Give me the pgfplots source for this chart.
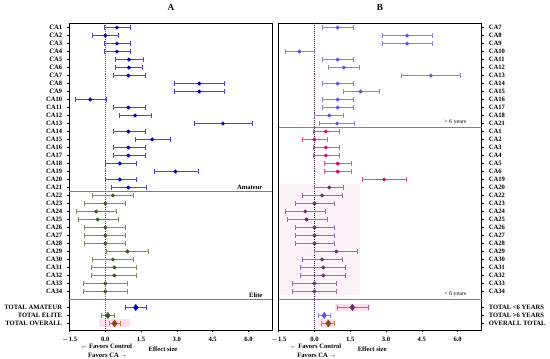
\documentclass[border=0pt]{standalone}
\usepackage{pgfplots}
\pgfplotsset{compat=1.18}
\usepackage{pgfplotstable}
\usepackage{fontspec}
\setmainfont{Liberation Serif}
\definecolor{bluA}{RGB}{0,0,200}
\definecolor{bluAb}{RGB}{70,70,230}
\definecolor{grn}{RGB}{55,90,20}
\definecolor{grnb}{RGB}{110,150,70}
\definecolor{bluB}{RGB}{85,85,230}
\definecolor{bluBb}{RGB}{130,130,240}
\definecolor{pnk}{RGB}{225,0,110}
\definecolor{pnkb}{RGB}{250,70,150}
\definecolor{prp}{RGB}{110,45,110}
\definecolor{prpb}{RGB}{165,105,165}
\definecolor{brn}{RGB}{140,70,20}
\definecolor{orn}{RGB}{240,120,40}
\definecolor{pshade}{RGB}{252,222,236}
\definecolor{pfaint}{RGB}{253,244,249}

\pgfplotstableread{
r x lo hi
1 0.49 -0.04 1.04
2 0 -0.53 0.53
3 0.49 -0.04 1.03
4 0.49 -0.06 1.07
5 0.99 0.43 1.58
6 0.99 0.43 1.57
7 0.97 0.32 1.67
8 3.94 2.89 5.00
9 3.94 2.89 5.00
10 -0.63 -1.26 0.03
11 0.97 0.32 1.67
12 1.25 0.57 1.94
13 4.93 3.71 6.17
14 0.97 0.32 1.67
15 1.97 1.24 2.74
16 0.97 0.32 1.67
17 0.97 0.32 1.67
18 0.61 0 1.28
19 2.94 2.06 3.88
20 0.61 0 1.28
21 0.97 0.24 1.72
}\Aamateur
\pgfplotstableread{
r x lo hi
22 0.32 -0.53 1.18
23 0 -0.86 0.86
24 -0.38 -1.22 0.47
25 -0.32 -1.15 0.54
26 0 -0.86 0.86
27 0 -0.86 0.86
28 0 -0.86 0.86
29 0.93 0.03 1.82
30 0.32 -0.53 1.18
31 0.38 -0.57 1.32
32 0.38 -0.57 1.32
33 0 -0.93 0.93
34 0 -0.93 0.93
}\Aelite
\pgfplotstableread{
r x lo hi
1 0.97 0.34 1.63
2 3.88 2.84 4.95
3 3.88 2.84 4.95
4 -0.63 -1.22 0
5 0.97 0.34 1.63
6 1.23 0.58 1.89
7 4.88 3.66 6.10
8 0.97 0.34 1.63
9 1.93 1.19 2.70
10 0.97 0.34 1.63
11 0.97 0.34 1.63
12 0.62 0 1.23
13 0.95 0.22 1.68
}\Bover
\pgfplotstableread{
r x lo hi
14 0.48 -0.04 1.03
15 0 -0.52 0.52
16 0.48 -0.04 1.03
17 0.48 -0.05 1.04
18 0.97 0.41 1.56
19 0.97 0.41 1.56
20 2.92 2.01 3.84
}\Bpink
\pgfplotstableread{
r x lo hi
21 0.62 0 1.23
22 0.32 -0.52 1.16
23 0 -0.82 0.84
24 -0.38 -1.22 0.47
25 -0.33 -1.15 0.53
26 0 -0.82 0.84
27 0 -0.82 0.84
28 0 -0.82 0.84
29 0.92 0 1.81
30 0.32 -0.52 1.16
31 0.37 -0.58 1.30
32 0.37 -0.58 1.30
33 0 -0.93 0.92
34 0 -0.93 0.92
}\Bunder

\pgfplotsset{
  forest/.style={
    scale only axis, width=153.75pt, height=232.5pt,
    xmin=-1.5, xmax=7, ymin=0.43, ymax=38.8, y dir=reverse,
    xtick={-1.5,0,1.5,3,4.5,6},
    xticklabels={$-$1.5,0.0,1.5,3.0,4.5,6.0},
    ytick={1,...,34,36,37,38},
    tick align=outside, major tick length=2pt,
    tick style={black, line width=0.4pt},
    axis line style={line width=0.5pt},
    ticklabel style={font=\fontsize{5}{6}\selectfont\bfseries},
    /pgf/number format/assume math mode=true,
    xtick pos=bottom,
    clip=false,
  },
  fp/.style n args={4}{only marks, mark=#1, mark size=#4, color=#2,
    error bars/x dir=both, error bars/x explicit, error bars/error mark=|,
    error bars/error mark options={mark size=1.6pt, line width=0.45pt, color=#3},
    error bars/error bar style={color=#3, line width=0.5pt},
  },
}
\newcommand{\fplot}[3]{%
  \addplot[fp={*}{#1}{#2}{1.3pt}]
    table[x=x, y=r, x error plus expr=\thisrow{hi}-\thisrow{x}, x error minus expr=\thisrow{x}-\thisrow{lo}] {#3};}

\begin{document}
\begin{tikzpicture}
\begin{axis}[forest, at={(0,0)}, ytick pos=left,
  yticklabels={CA1,CA2,CA3,CA4,CA5,CA6,CA7,CA8,CA9,CA10,CA11,CA12,CA13,CA14,CA15,CA16,CA17,CA18,CA19,CA20,CA21,CA22,CA23,CA24,CA25,CA26,CA27,CA28,CA29,CA30,CA31,CA32,CA33,CA34,TOTAL AMATEUR,TOTAL ELITE,TOTAL OVERALL}]
  \fill[pshade] (axis cs:-0.27,37.5) rectangle (axis cs:1.03,38.45);
  \draw[gray!70!black, densely dotted, line width=0.5pt] (axis cs:0,0.43) -- (axis cs:0,38.8);
  \draw[gray, line width=0.5pt] (axis cs:-1.5,21.5) -- (axis cs:7,21.5);
  \draw[gray, line width=0.5pt] (axis cs:-1.5,35) -- (axis cs:7,35);
  \fplot{bluA}{bluAb}{\Aamateur}
  \fplot{grn}{grnb}{\Aelite}
  \addplot[fp={diamond*}{bluA}{bluAb}{2.3pt}] coordinates {(1.28,36) -= (0.42,0) += (0.46,0)};
  \addplot[fp={diamond*}{grn}{grnb}{2.3pt}] coordinates {(0.11,37) -= (0.26,0) += (0.25,0)};
  \addplot[fp={diamond*}{brn}{orn}{2.6pt}] coordinates {(0.39,38) -= (0.20,0) += (0.22,0)};
  \node[anchor=south east, font=\fontsize{5}{6}\selectfont\bfseries, inner sep=1pt] at (axis cs:6.65,21.4) {Amateur};
  \node[anchor=south east, font=\fontsize{5}{6}\selectfont\bfseries, inner sep=1pt] at (axis cs:6.65,34.9) {Elite};
  \node[font=\fontsize{7}{8}\selectfont\bfseries] at (rel axis cs:0.5,1) [yshift=11.8pt] {A};
  \node[font=\fontsize{5}{6}\selectfont\bfseries, inner sep=0.5pt] at (axis cs:0.05,38.8) [yshift=-12.4pt] {← Favors Control};
  \node[font=\fontsize{5}{6}\selectfont\bfseries, inner sep=0.5pt] at (axis cs:0.1,38.8) [yshift=-19pt] {Favors CA →};
  \node[font=\fontsize{5}{6}\selectfont\bfseries, inner sep=0.5pt] at (axis cs:2.42,38.8) [yshift=-15pt] {Effect size};
  \path (rel axis cs:0,0) ++(0,-24.5pt) coordinate (bb);
  \path (bb) -- ++(1pt,0);
\end{axis}
\begin{axis}[forest, at={(158.5pt,0)}, ytick pos=right, yticklabel pos=right,
  yticklabels={CA7,CA8,CA9,CA10,CA11,CA12,CA13,CA14,CA15,CA16,CA17,CA18,CA21,CA1,CA2,CA3,CA4,CA5,CA6,CA19,CA20,CA22,CA23,CA24,CA25,CA26,CA27,CA28,CA29,CA30,CA31,CA32,CA33,CA34,TOTAL <6 YEARS,TOTAL >6 YEARS,OVERALL TOTAL}]
  \fill[pfaint] (axis cs:-1.5,20.5) rectangle (axis cs:1.9,34.5);
  \fill[pshade] (axis cs:0.88,35.55) rectangle (axis cs:2.32,36.45);
  \fill[pshade] (axis cs:0.19,37.5) rectangle (axis cs:0.86,38.45);
  \draw[prp!70!black, densely dotted, line width=0.5pt] (axis cs:0,0.43) -- (axis cs:0,38.8);
  \draw[gray, line width=0.5pt] (axis cs:-1.5,13.5) -- (axis cs:7,13.5);
  \draw[gray, line width=0.5pt] (axis cs:-1.5,35) -- (axis cs:7,35);
  \fplot{bluB}{bluBb}{\Bover}
  \fplot{pnk}{pnkb}{\Bpink}
  \fplot{prp}{prpb}{\Bunder}
  \addplot[fp={diamond*}{prp}{prpb}{2.4pt}] coordinates {(1.59,36) -= (0.64,0) += (0.67,0)};
  \addplot[fp={diamond*}{bluB}{bluBb}{2.3pt}] coordinates {(0.41,37) -= (0.25,0) += (0.26,0)};
  \addplot[fp={diamond*}{brn}{orn}{2.6pt}] coordinates {(0.58,38) -= (0.28,0) += (0.26,0)};
  \node[anchor=south, font=\fontsize{4.5}{5}\selectfont, inner sep=1pt] at (axis cs:5.9,13.4) {> 6 years};
  \node[anchor=south, font=\fontsize{4.5}{5}\selectfont, inner sep=1pt] at (axis cs:5.9,34.9) {< 6 years};
  \node[font=\fontsize{7}{8}\selectfont\bfseries] at (rel axis cs:0.5,1) [yshift=11.8pt] {B};
  \node[font=\fontsize{5}{6}\selectfont\bfseries, inner sep=0.5pt] at (axis cs:0.05,38.8) [yshift=-12.4pt] {← Favors Control};
  \node[font=\fontsize{5}{6}\selectfont\bfseries, inner sep=0.5pt] at (axis cs:0.1,38.8) [yshift=-19pt] {Favors CA →};
  \node[font=\fontsize{5}{6}\selectfont\bfseries, inner sep=0.5pt] at (axis cs:2.42,38.8) [yshift=-15pt] {Effect size};
\end{axis}
\end{tikzpicture}
\end{document}
